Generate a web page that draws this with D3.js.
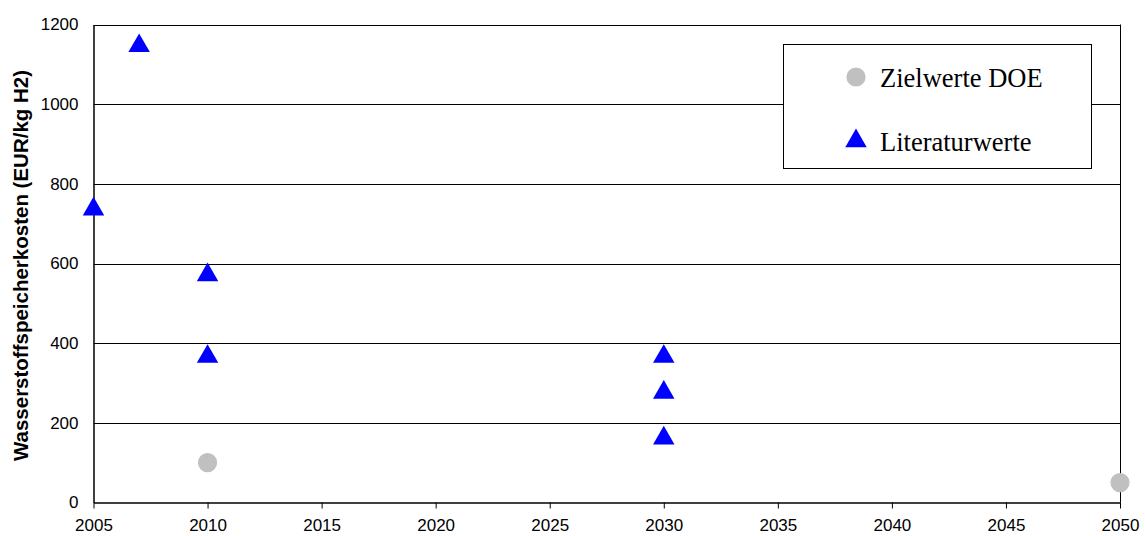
<!DOCTYPE html>
<html><head><meta charset="utf-8">
<script src="https://cdn.jsdelivr.net/npm/d3@7"></script>
<style>body{margin:0;background:#fff}svg{display:block}</style>
</head><body>
<svg id="chart" width="1145" height="536"></svg>
<script>
const xTicks = [2005,2010,2015,2020,2025,2030,2035,2040,2045,2050];
const yTicks = [0,200,400,600,800,1000,1200];
const doeYears = [2010, 2050];
const doeValues = [100, 50];
const litYears = [2005, 2007, 2010, 2010, 2030, 2030, 2030];
const litValues = [740, 1150, 575, 370, 370, 280, 165];
const seriesNames = ["Zielwerte DOE", "Literaturwerte"];
const yTitle = "Wasserstoffspeicherkosten (EUR/kg H2)";

const svg = d3.select("#chart");
const L = 93.5, R = 1120, T = 24.5, B = 502.5;
const x = d3.scaleLinear().domain([2005,2050]).range([L,R]);
const y = d3.scaleLinear().domain([0,1200]).range([B,T]);

// gridlines
svg.append("g").selectAll("line").data(yTicks.filter(d=>d>0)).join("line")
  .attr("x1",L).attr("x2",R).attr("y1",d=>Math.round(y(d))+0.5).attr("y2",d=>Math.round(y(d))+0.5)
  .attr("stroke","#000").attr("stroke-width",1);
svg.append("line").attr("x1",R+0.5).attr("x2",R+0.5).attr("y1",T).attr("y2",B).attr("stroke","#000");

const xAxis = svg.append("g").attr("transform",`translate(0,${B})`)
  .call(d3.axisBottom(x).tickValues(xTicks).tickFormat(d3.format("d")).tickSize(6).tickSizeOuter(0).tickPadding(10));
xAxis.select(".domain").attr("stroke","#000").attr("stroke-width",1.5);
xAxis.selectAll("text").style("font-family","'Liberation Sans', Arial, sans-serif").style("font-size","17px").attr("fill","#000");
const yAxis = svg.append("g").attr("transform",`translate(${L},0)`)
  .call(d3.axisLeft(y).tickValues(yTicks).tickFormat(d3.format("d")).tickSize(0).tickSizeOuter(0).tickPadding(15));
yAxis.select(".domain").attr("stroke","#000").attr("stroke-width",1.5);
yAxis.selectAll("text").style("font-family","'Liberation Sans', Arial, sans-serif").style("font-size","17px").attr("fill","#000");

svg.append("text").attr("transform",`translate(28,${(T+B)/2 + 2}) rotate(-90)`)
  .attr("text-anchor","middle").style("font-family","'Liberation Sans', Arial, sans-serif")
  .style("font-weight","bold").style("font-size","20.5px").text(yTitle);

const tri = d3.symbol().type(d3.symbolTriangle).size(200);
const circ = d3.symbol().type(d3.symbolCircle).size(290);

svg.append("g").selectAll("path").data(doeYears.map((d,i)=>[d,doeValues[i]])).join("path")
  .attr("d",circ).attr("transform",d=>`translate(${x(d[0])},${y(d[1])})`).attr("fill","#c0c0c0");
svg.append("g").selectAll("path").data(litYears.map((d,i)=>[d,litValues[i]])).join("path")
  .attr("d",tri).attr("transform",d=>`translate(${x(d[0])},${y(d[1])+1.5})`).attr("fill","#0000ff");

// legend
const lg = svg.append("g");
lg.append("rect").attr("x",783.5).attr("y",44.5).attr("width",308).attr("height",124)
  .attr("fill","#fff").attr("stroke","#000").attr("stroke-width",1);
lg.append("path").attr("d",circ).attr("transform","translate(856,77)").attr("fill","#c0c0c0");
lg.append("path").attr("d",tri).attr("transform","translate(856,141)").attr("fill","#0000ff");
lg.selectAll("text").data(seriesNames).join("text")
  .attr("x",880).attr("y",(d,i)=>i===0?87:151)
  .style("font-family","'Liberation Serif', 'Times New Roman', serif").style("font-size","26.5px").attr("fill","#000").text(d=>d);
</script>
</body></html>
